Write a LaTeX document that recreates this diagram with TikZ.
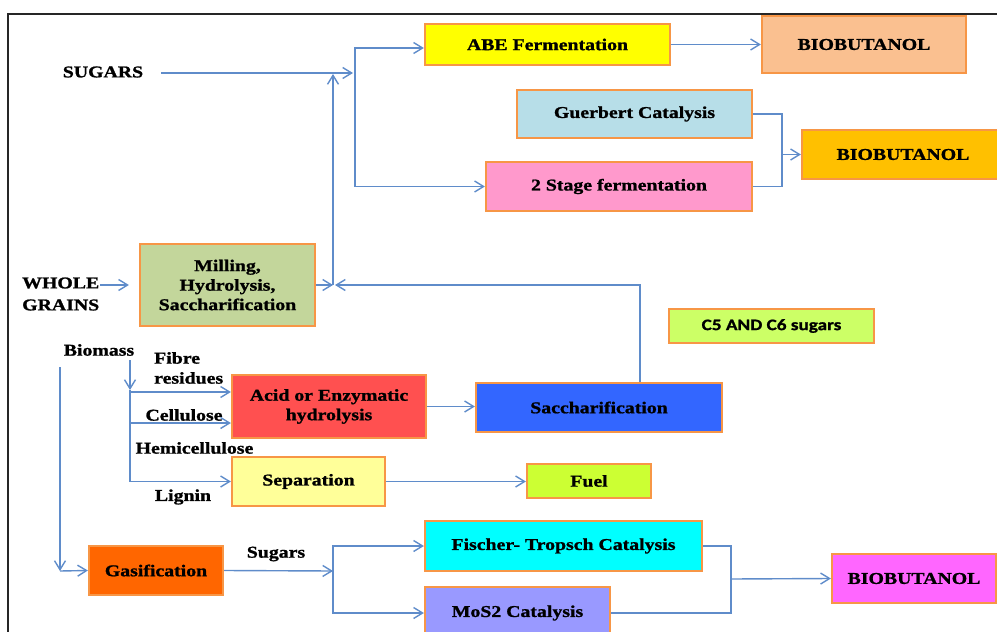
\documentclass[tikz,border=0pt]{standalone}
\usepackage{fontspec}
\newfontfamily\tnr{Liberation Serif}[FakeStretch=1.2, BoldFeatures={FakeBold=1.2}]
\newfontfamily\calfnt{Carlito}[FakeStretch=1.2, BoldFeatures={FakeBold=1.2}]
\usetikzlibrary{arrows.meta}
\definecolor{ob}{RGB}{247,150,70}
\definecolor{arrc}{RGB}{95,140,202}
\definecolor{cABE}{RGB}{255,255,0}
\definecolor{cBioA}{RGB}{250,192,144}
\definecolor{cGuer}{RGB}{183,222,232}
\definecolor{cTwo}{RGB}{255,153,204}
\definecolor{cBioB}{RGB}{255,192,0}
\definecolor{cMill}{RGB}{195,214,155}
\definecolor{cCfive}{RGB}{204,255,102}
\definecolor{cSacch}{RGB}{51,102,255}
\definecolor{cAcid}{RGB}{255,80,80}
\definecolor{cSep}{RGB}{255,255,153}
\definecolor{cFuel}{RGB}{204,255,51}
\definecolor{cGas}{RGB}{255,102,0}
\definecolor{cFis}{RGB}{0,255,255}
\definecolor{cMos}{RGB}{153,153,255}
\definecolor{cBioC}{RGB}{255,102,255}
\begin{document}
\begin{tikzpicture}[x=1pt,y=-1pt,
  box/.style={draw=ob, line width=2.2pt, rectangle, inner sep=0pt, align=center,
    font=\tnr\bfseries\fontsize{16.5}{19.5}\selectfont},
  lbl/.style={inner sep=0pt, align=left, font=\tnr\bfseries\fontsize{16.5}{20}\selectfont},
  ln/.style={draw=arrc, line width=1.4pt},
  arr/.style={ln, -{Straight Barb[length=9pt,width=11pt]}}]
\useasboundingbox (0,0) rectangle (997,632);
\clip (0,0) rectangle (997,632);
% frame
\draw[line width=1.1pt, black!85] (8,640) -- (8,14) -- (1000,14);

% boxes
\node[box, fill=cABE, minimum width=245pt, minimum height=41pt] (abe) at (547.5,44.5) {ABE Fermentation};
\node[box, fill=cBioA, minimum width=204pt, minimum height=57pt] (bio1) at (864,44.5) {BIOBUTANOL};
\node[box, fill=cGuer, minimum width=235pt, minimum height=48pt] (guer) at (634.5,114) {Guerbert Catalysis};
\node[box, fill=cTwo, minimum width=266pt, minimum height=49pt] (two) at (619,186.5) {2 Stage fermentation};
\node[box, fill=cBioB, minimum width=202pt, minimum height=49pt, text width=202pt] (bio2) at (903,154.5) {BIOBUTANOL};
\node[box, fill=cMill, minimum width=175pt, minimum height=82pt] (mill) at (227.5,285) {Milling,\\Hydrolysis,\\Saccharification};
\node[box, fill=cCfive, minimum width=205pt, minimum height=34pt, font=\calfnt\bfseries\fontsize{16}{19}\selectfont] (cfive) at (771.5,326) {C5 AND C6 sugars};
\node[box, fill=cSacch, minimum width=246pt, minimum height=49pt] (sacch) at (599,407.5) {Saccharification};
\node[box, fill=cAcid, minimum width=194pt, minimum height=63pt] (acid) at (329,406.5) {Acid or Enzymatic\\hydrolysis};
\node[box, fill=cSep, minimum width=153pt, minimum height=49pt] (sep) at (308.5,481.5) {Separation};
\node[box, fill=cFuel, minimum width=124pt, minimum height=34pt] (fuel) at (589,481) {Fuel};
\node[box, fill=cGas, minimum width=134pt, minimum height=49pt] (gas) at (156,570.5) {Gasification};
\node[box, fill=cFis, minimum width=277pt, minimum height=50pt] (fis) at (563.5,546) {Fischer- Tropsch Catalysis};
\node[box, fill=cMos, minimum width=185pt, minimum height=52pt] (mos) at (517.5,613) {MoS2 Catalysis};
\node[box, fill=cBioC, minimum width=164pt, minimum height=49pt] (bio3) at (914,578.5) {BIOBUTANOL};

% plain labels
\node[lbl] (sugars) at (103,72) {SUGARS};
\node[lbl, anchor=west] (wg) at (22,294) {WHOLE\\[2pt]GRAINS};
\node[lbl] (biomass) at (99,350) {Biomass};
\node[lbl, anchor=west] (fibre) at (154,368) {Fibre\\residues};
\node[lbl] (cellu) at (184,415) {Cellulose};
\node[lbl] (hemi) at (194.5,448) {Hemicellulose};
\node[lbl] (lignin) at (183,497) {Lignin};
\node[lbl] (sugb) at (276,554) {Sugars};

% junction coordinates
\coordinate (sS) at (161,73);
\coordinate (jA) at (355,73);
\coordinate (jM) at (333,285);
\coordinate (jU) at (333,74);
\coordinate (jB) at (782,154.5);
\coordinate (wgA) at (100,285);
\coordinate (bA) at (130,360);
\coordinate (bB) at (130,390);
\coordinate (gL) at (60,367);
\coordinate (gC) at (60,571);
\coordinate (jG) at (333,571);
\coordinate (jF) at (731,579);

% connectors
\draw[arr] (sS) -- ([xshift=-2pt]jA);
\draw[arr] (jA) |- ([yshift=-3.5pt]abe.west);
\draw[arr] (jA) |- (two.west);
\draw[arr] (abe.east) -- (bio1.west);
\draw[ln] (guer.east) -| (jB) |- (two.east);
\draw[arr] (jB) -- (bio2.west);
\draw[arr] (wgA) -- ([xshift=-10pt]mill.west);
\draw[arr] (mill.east) -- (jM);
\draw[arr] (jM) -- (jU);
\draw[arr] ([xshift=41pt]sacch.north) |- ([xshift=2pt]jM);
\draw[arr] (bA) -- (bB);
\draw[arr] (bB) |- ([yshift=14.5pt]acid.west);
\draw[arr] (bB) |- ([yshift=-16.5pt]acid.west);
\draw[arr] (bB) |- (sep.west);
\draw[arr] (acid.east) -- (acid.east -| sacch.west);
\draw[arr] (sep.east) -- (sep.east -| fuel.west);
\draw[arr] (gL) -- (gC);
\draw[arr] (gC) -- (gas.west);
\draw[arr] (gas.east) -- (jG);
\draw[arr] (jG) |- (fis.west);
\draw[arr] (jG) |- (mos.west);
\draw[ln] (fis.east) -| (jF) |- (mos.east);
\draw[arr] (jF) -- (bio3.west);
\end{tikzpicture}
\end{document}
